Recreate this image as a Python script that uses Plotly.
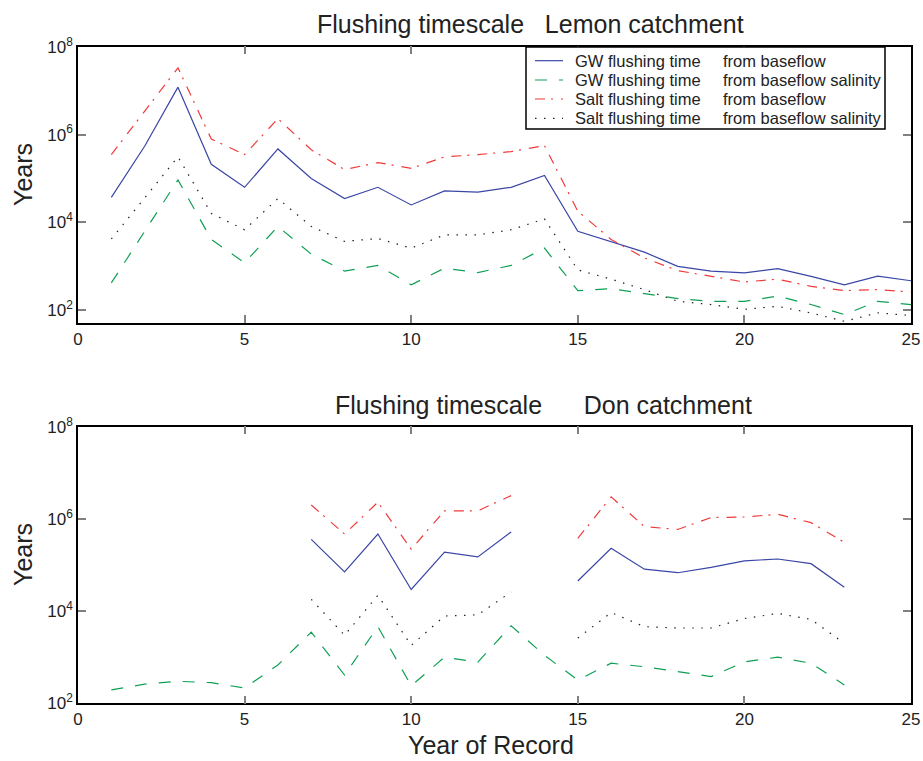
import plotly.graph_objects as go

W, H = 923, 761

# Year of record
years_lemon = list(range(1, 26))
years_don = list(range(1, 24))

# Lemon catchment flushing times (years)
lemon_gw_baseflow = [37000, 540000, 1.2e7, 2.1e5, 6.3e4, 4.7e5, 1.0e5, 3.5e4, 6.3e4, 2.5e4,
                     5.2e4, 4.9e4, 6.3e4, 1.17e5, 6300, 3700, 2100, 1000, 780, 710,
                     890, 590, 380, 600, 470]
lemon_gw_salinity = [420, 6300, 93000, 4100, 1200, 8100, 1900, 780, 1050, 380,
                     910, 720, 1050, 2600, 280, 310, 240, 185, 160, 160,
                     210, 135, 80, 160, 135]
lemon_salt_baseflow = [3.5e5, 3.5e6, 3.3e7, 7.9e5, 3.5e5, 2.3e6, 4.5e5, 1.6e5, 2.3e5, 1.7e5,
                       3.1e5, 3.5e5, 4.1e5, 5.6e5, 1.8e4, 4100, 1550, 800, 590, 440,
                       510, 350, 280, 295, 260]
lemon_salt_salinity = [4200, 35000, 3.1e5, 16000, 6800, 35000, 8100, 3700, 4300, 2600,
                       5200, 5200, 6800, 12000, 830, 510, 295, 160, 135, 105,
                       123, 87, 56, 87, 76]

# Don catchment flushing times (years); None marks years without a value
don_gw_baseflow = [None, None, None, None, None, None, 3.6e5, 7.1e4, 4.7e5, 2.95e4,
                   1.9e5, 1.5e5, 5.2e5, None, 4.5e4, 2.3e5, 8.1e4, 6.8e4, 8.9e4, 1.23e5,
                   1.35e5, 1.07e5, 3.3e4]
don_gw_salinity = [195, 260, 300, 280, 215, 680, 3500, 410, 4600, 240,
                   1000, 780, 4800, 1100, 320, 740, 620, 490, 380, 790,
                   1000, 740, 250]
don_salt_baseflow = [None, None, None, None, None, None, 2.0e6, 4.7e5, 2.3e6, 2.2e5,
                     1.5e6, 1.5e6, 3.2e6, None, 3.8e5, 3.0e6, 6.8e5, 5.9e5, 1.07e6, 1.1e6,
                     1.26e6, 8.3e5, 3.1e5]
don_salt_salinity = [None, None, None, None, None, None, 18000, 3000, 22000, 1800,
                     7800, 8300, 26000, None, 2600, 9300, 4600, 4300, 4300, 6900,
                     8900, 6600, 2000]

# Legend labels: quantity and source columns
legend_quantity = ["GW flushing time", "GW flushing time",
                   "Salt flushing time", "Salt flushing time"]
legend_source = ["from baseflow", "from baseflow salinity",
                 "from baseflow", "from baseflow salinity"]

styles = [
    dict(color="#3a46a6", dash="solid"),
    dict(color="#0fa055", dash="12px,12px"),
    dict(color="#f03a3a", dash="10px,6px,2px,8px"),
    dict(color="#222222", dash="1.5px,7.5px"),
]

FONT = "Liberation Sans, Arial, Helvetica, sans-serif"

fig = go.Figure()

lemon = [lemon_gw_baseflow, lemon_gw_salinity, lemon_salt_baseflow, lemon_salt_salinity]
don = [don_gw_baseflow, don_gw_salinity, don_salt_baseflow, don_salt_salinity]

for q, s, vals, st in zip(legend_quantity, legend_source, lemon, styles):
    fig.add_trace(go.Scatter(x=years_lemon, y=vals, mode="lines", name=f"{q} {s}",
                             line=dict(color=st["color"], dash=st["dash"], width=1.2),
                             xaxis="x", yaxis="y", showlegend=False))
for q, s, vals, st in zip(legend_quantity, legend_source, don, styles):
    fig.add_trace(go.Scatter(x=years_don, y=vals, mode="lines", name=f"{q} {s}",
                             line=dict(color=st["color"], dash=st["dash"], width=1.2),
                             xaxis="x2", yaxis="y2", showlegend=False,
                             connectgaps=False))


def px_x(x):
    return x / W


def px_y(y):
    return 1 - y / H


ytickvals = [1e2, 1e4, 1e6, 1e8]
yticktext = ["10<sup>2</sup>", "10<sup>4</sup>", "10<sup>6</sup>", "10<sup>8</sup>"]

common_x = dict(range=[0, 25], tickvals=[0, 5, 10, 15, 20, 25], ticks="inside", ticklen=8,
                tickcolor="#808080", tickwidth=1.5, showline=True, linecolor="black",
                linewidth=1.5, mirror="allticks", showgrid=False, zeroline=False,
                automargin=False,
                tickfont=dict(size=17, color="#222", family=FONT))
common_y = dict(type="log", tickvals=ytickvals, ticktext=yticktext, ticks="inside",
                ticklen=8, tickcolor="#808080", tickwidth=1.5, showline=True,
                linecolor="black", linewidth=1.5, mirror="allticks", showgrid=False,
                zeroline=False, automargin=False,
                tickfont=dict(size=17, color="#222", family=FONT))

x_dom = [px_x(78), px_x(911)]

fig.update_layout(
    template="none",
    width=W, height=H,
    margin=dict(l=0, r=0, t=0, b=0, pad=0, autoexpand=False),
    paper_bgcolor="white", plot_bgcolor="white",
    font=dict(family=FONT, color="#222"),
    xaxis=dict(domain=x_dom, anchor="y", **common_x),
    yaxis=dict(domain=[px_y(323), px_y(46.7)], anchor="x", range=[1.71, 8], **common_y),
    xaxis2=dict(domain=x_dom, anchor="y2", **common_x),
    yaxis2=dict(domain=[px_y(703.3), px_y(426.7)], anchor="x2", range=[2, 8], **common_y),
    showlegend=False,
)

sp = "\u00a0"
annotations = [
    dict(text="Flushing timescale" + sp * 3 + "Lemon catchment", x=px_x(530), y=px_y(24),
         font=dict(size=25)),
    dict(text="Flushing timescale" + sp * 6 + "Don catchment", x=px_x(543), y=px_y(405),
         font=dict(size=25)),
    dict(text="Years", x=px_x(23), y=px_y(175), textangle=-90, font=dict(size=25)),
    dict(text="Years", x=px_x(23), y=px_y(555), textangle=-90, font=dict(size=25)),
    dict(text="Year of Record", x=px_x(491), y=px_y(745), font=dict(size=25)),
]
for a in annotations:
    a.update(xanchor="center")

# Legend box in the upper panel
shapes = [dict(type="rect", xref="paper", yref="paper",
               x0=px_x(526), x1=px_x(885), y0=px_y(129), y1=px_y(47),
               line=dict(color="black", width=1.5), fillcolor="white", layer="above")]
row_y = [60.7, 80.0, 99.0, 118.3]
for ry, q, s, st in zip(row_y, legend_quantity, legend_source, styles):
    shapes.append(dict(type="line", xref="paper", yref="paper",
                       x0=px_x(535), x1=px_x(563), y0=px_y(ry), y1=px_y(ry),
                       line=dict(color=st["color"], dash=st["dash"], width=1.2),
                       layer="above"))
    annotations.append(dict(text=q, x=px_x(573), y=px_y(ry), xanchor="left",
                            font=dict(size=16.5)))
    annotations.append(dict(text=s, x=px_x(721), y=px_y(ry), xanchor="left",
                            font=dict(size=16.5)))

for a in annotations:
    a.update(xref="paper", yref="paper", yanchor="middle", showarrow=False)
    a["font"].update(family=FONT, color="#222")

fig.update_layout(annotations=annotations, shapes=shapes)

fig.write_html("out.html")
